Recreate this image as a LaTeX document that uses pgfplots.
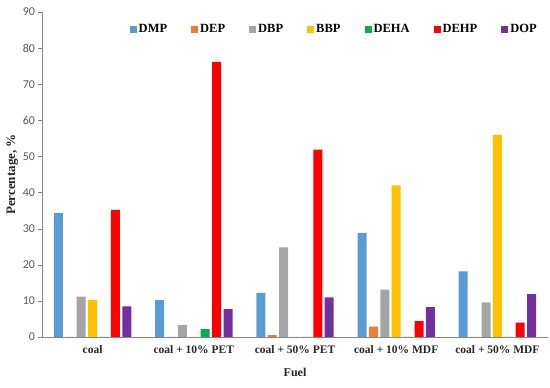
\documentclass[border=0pt]{standalone}
\usepackage{pgfplots}
\pgfplotsset{compat=1.18}
\usepackage{fontspec}
\setmainfont{Liberation Serif}
\newfontfamily\tickfont{Carlito}
\definecolor{cDMP}{HTML}{5B9BD5}
\definecolor{cDEP}{HTML}{ED7D31}
\definecolor{cDBP}{HTML}{A5A5A5}
\definecolor{cBBP}{HTML}{FFC000}
\definecolor{cDEHA}{HTML}{00B050}
\definecolor{cDEHP}{HTML}{FF0000}
\definecolor{cDOP}{HTML}{7030A0}
\definecolor{axgray}{HTML}{868686}
\definecolor{ticktext}{HTML}{595959}
\begin{document}
\begin{tikzpicture}
\begin{axis}[
  scale only axis, width=506pt, height=325pt,
  ybar=2.4pt, bar width=9pt,
  xmin=-0.5, xmax=4.5, ymin=0, ymax=90,
  xtick={0,1,2,3,4},
  xticklabels={coal, coal + 10\% PET, coal + 50\% PET, coal + 10\% MDF, coal + 50\% MDF},
  xticklabel style={font=\bfseries\fontsize{11.5}{13}\selectfont, text=black!85, yshift=-1pt},
  major x tick style={draw=none},
  ytick={0,10,...,90},
  yticklabel style={font=\tickfont\fontsize{12}{14}\selectfont, text=ticktext},
  /pgf/number format/assume math mode=true,
  axis lines*=left,
  axis line style={draw=axgray},
  tick align=outside,
  major y tick style={draw=axgray},
  major tick length=3.5pt,
  xlabel={Fuel}, ylabel={Percentage, \%},
  xlabel style={font=\bfseries\fontsize{12}{14}\selectfont, text=black!85, yshift=-8pt},
  ylabel style={font=\bfseries\fontsize{13}{15}\selectfont, text=black!85, yshift=-2pt},
  legend style={at={(0.988,0.975)}, anchor=north east, draw=none, fill=none,
    legend columns=-1, font=\bfseries\fontsize{12.5}{14}\selectfont,
    /tikz/every even column/.append style={column sep=22pt}},
  legend image code/.code={\fill[#1] (0pt,-3.5pt) rectangle (7pt,3.5pt);},
  every axis plot/.append style={draw=none},
]
\addplot[fill=cDMP] coordinates {(0,34.3) (1,10.2) (2,12.2) (3,28.8) (4,18.2)};
\addplot[fill=cDEP] coordinates {(0,0) (1,0) (2,0.5) (3,2.9) (4,0)};
\addplot[fill=cDBP] coordinates {(0,11.2) (1,3.3) (2,24.8) (3,13.1) (4,9.6)};
\addplot[fill=cBBP] coordinates {(0,10.3) (1,0) (2,0) (3,42.0) (4,56.0)};
\addplot[fill=cDEHA] coordinates {(0,0) (1,2.2) (2,0) (3,0) (4,0)};
\addplot[fill=cDEHP] coordinates {(0,35.2) (1,76.2) (2,51.9) (3,4.4) (4,4.0)};
\addplot[fill=cDOP] coordinates {(0,8.5) (1,7.7) (2,11.0) (3,8.3) (4,11.9)};
\legend{DMP, DEP, DBP, BBP, DEHA, DEHP, DOP}
\end{axis}
\path (current axis.south west) ++(-42pt,-51pt) rectangle ([xshift=2pt,yshift=12pt]current axis.north east);
\end{tikzpicture}
\end{document}
